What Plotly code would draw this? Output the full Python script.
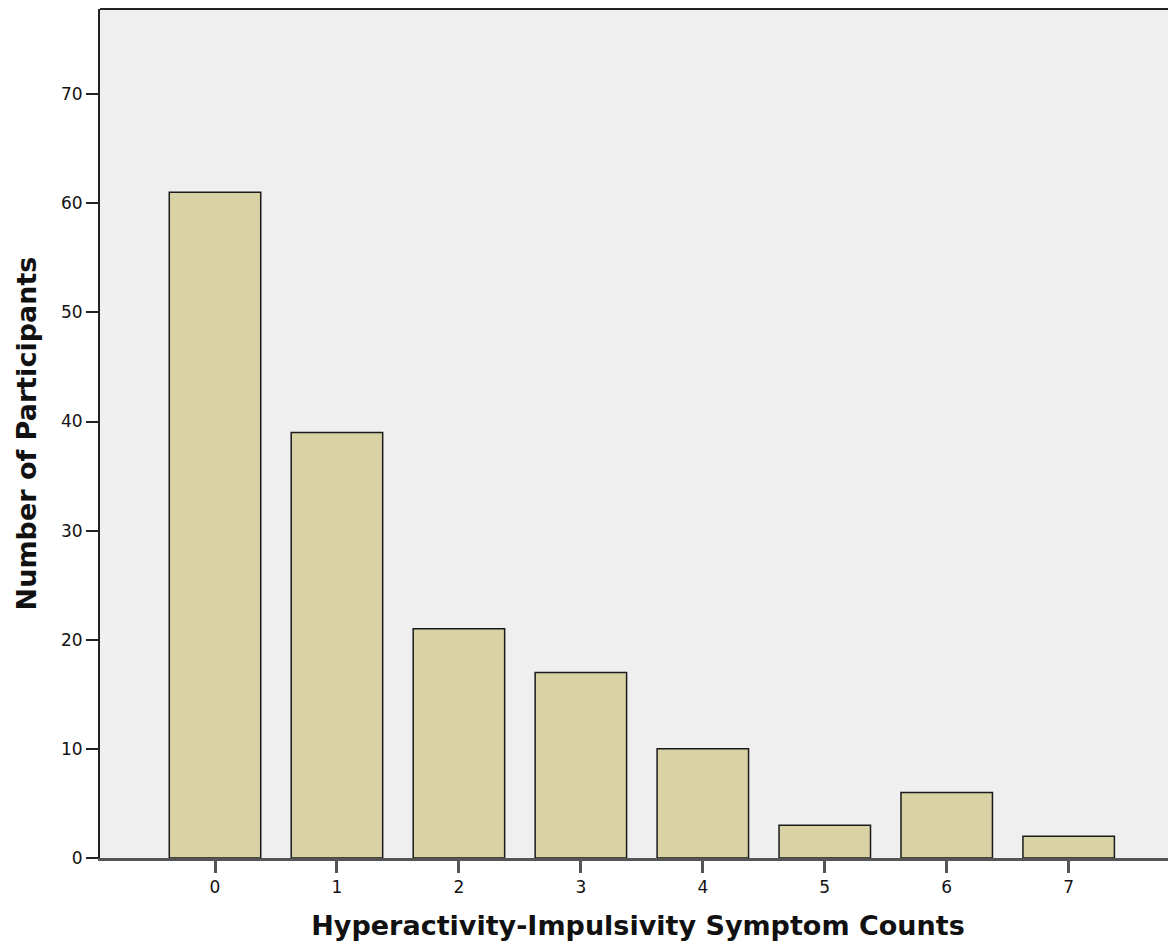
import plotly.graph_objects as go

symptom_counts = [0, 1, 2, 3, 4, 5, 6, 7]
participants = [61, 39, 21, 17, 10, 3, 6, 2]
y_ticks = [0, 10, 20, 30, 40, 50, 60, 70]

fig = go.Figure()
fig.add_trace(go.Bar(
    x=symptom_counts,
    y=participants,
    width=0.75,
    marker=dict(color="#D9D2A5", line=dict(color="#1a1a1a", width=1.5)),
))

fig.update_layout(
    width=1168,
    height=933,
    paper_bgcolor="white",
    plot_bgcolor="#EFEFEF",
    margin=dict(l=92, r=0, t=1, b=83),
    showlegend=False,
    bargap=0.25,
    font=dict(family="DejaVu Sans", color="#111"),
    xaxis=dict(
        range=[-0.943, 7.88],
        tickvals=symptom_counts,
        ticktext=[str(v) for v in symptom_counts],
        ticks="outside",
        ticklen=12,
        tickwidth=3,
        tickcolor="#555",
        tickfont=dict(size=17, family="DejaVu Sans"),
        showgrid=False,
        zeroline=False,
        showline=True,
        linecolor="#555",
        linewidth=3,
        title=dict(
            text="Hyperactivity-Impulsivity Symptom Counts",
            font=dict(size=27, family="DejaVu Sans", weight="bold"),
            standoff=21,
        ),
    ),
    yaxis=dict(
        range=[0, 77.8],
        tickvals=y_ticks,
        ticks="outside",
        ticklen=12,
        tickwidth=2,
        tickcolor="#222",
        tickfont=dict(size=17, family="DejaVu Sans"),
        showgrid=False,
        zeroline=False,
        showline=True,
        linecolor="#222",
        linewidth=2,
        title=dict(
            text="Number of Participants",
            font=dict(size=27, family="DejaVu Sans", weight="bold"),
            standoff=17,
        ),
    ),
    shapes=[dict(type="line", xref="paper", yref="paper", x0=0, x1=1, y0=1, y1=1,
                 line=dict(color="#222", width=2))],
)

fig.write_html("out.html")
